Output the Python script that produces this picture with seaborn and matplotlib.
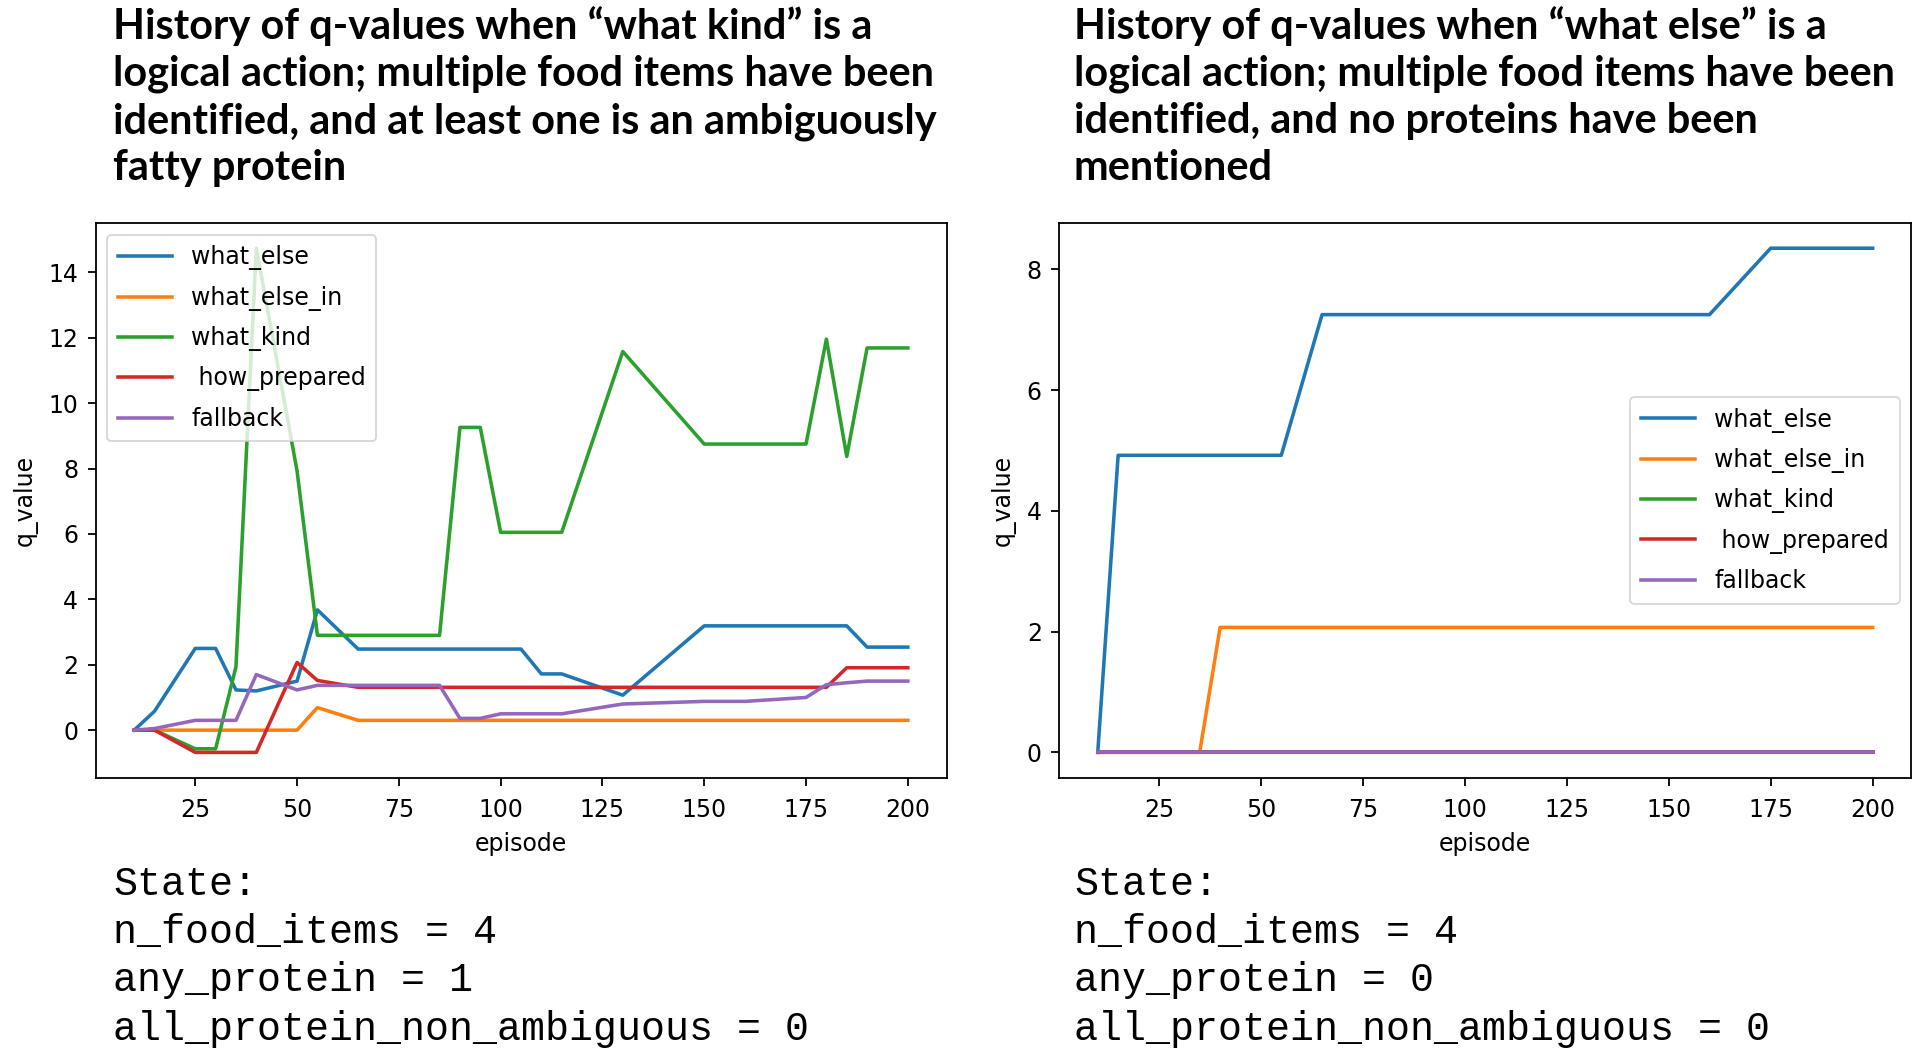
import numpy as np
import pandas as pd
import matplotlib
matplotlib.use("Agg")
import matplotlib.pyplot as plt
import seaborn as sns

# ---------------- data ----------------
actions = ["what_else", "what_else_in", "what_kind", " how_prepared", "fallback"]
colors = ["#1f77b4", "#ff7f0e", "#2ca02c", "#d62728", "#9467bd"]

# left panel
L_what_else_ep = [10, 15, 25, 30, 35, 40, 50, 55, 65, 105, 110, 115, 130, 150, 185, 190, 200]
L_what_else_q = [0, 0.58, 2.5, 2.5, 1.23, 1.2, 1.5, 3.68, 2.48, 2.48, 1.72, 1.72, 1.07, 3.19, 3.19, 2.54, 2.54]
L_what_else_in_ep = [10, 50, 55, 65, 200]
L_what_else_in_q = [0, 0, 0.69, 0.3, 0.3]
L_what_kind_ep = [10, 15, 25, 30, 35, 40, 50, 55, 85, 90, 95, 100, 115, 130, 150, 175, 180, 185, 190, 200]
L_what_kind_q = [0, 0, -0.57, -0.57, 1.94, 14.74, 7.93, 2.9, 2.9, 9.26, 9.26, 6.05, 6.05, 11.58, 8.75, 8.75,
                 11.96, 8.37, 11.69, 11.69]
L_how_prepared_ep = [10, 15, 25, 40, 50, 55, 65, 180, 185, 200]
L_how_prepared_q = [0, 0, -0.68, -0.68, 2.07, 1.52, 1.31, 1.31, 1.91, 1.91]
L_fallback_ep = [10, 15, 25, 35, 40, 50, 55, 85, 90, 95, 100, 115, 130, 150, 160, 175, 180, 185, 190, 200]
L_fallback_q = [0, 0.05, 0.3, 0.3, 1.7, 1.23, 1.37, 1.37, 0.36, 0.36, 0.5, 0.5, 0.8, 0.88, 0.88, 1.0,
                1.39, 1.45, 1.5, 1.5]

# right panel
R_what_else_ep = [10, 15, 55, 65, 160, 175, 200]
R_what_else_q = [0, 4.92, 4.92, 7.25, 7.25, 8.35, 8.35]
R_what_else_in_ep = [10, 35, 40, 200]
R_what_else_in_q = [0, 0, 2.07, 2.07]
R_what_kind_ep = [10, 200]
R_what_kind_q = [0, 0]
R_how_prepared_ep = [10, 200]
R_how_prepared_q = [0, 0]
R_fallback_ep = [10, 200]
R_fallback_q = [0, 0]

x_ticks = [25, 50, 75, 100, 125, 150, 175, 200]
L_y_ticks = [0, 2, 4, 6, 8, 10, 12, 14]
R_y_ticks = [0, 2, 4, 6, 8]

title_left = ["History of q-values when \u201cwhat kind\u201d is a",
              "logical action; multiple food items have been",
              "identified, and at least one is an ambiguously",
              "fatty protein"]
title_right = ["History of q-values when \u201cwhat else\u201d is a",
               "logical action; multiple food items have been",
               "identified, and no proteins have been",
               "mentioned"]
state_left = ["State:", "n_food_items = 4", "any_protein = 1", "all_protein_non_ambiguous = 0"]
state_right = ["State:", "n_food_items = 4", "any_protein = 0", "all_protein_non_ambiguous = 0"]


def build(series):
    rows = []
    for name, (eps, qs) in zip(actions, series):
        for e, q in zip(eps, qs):
            rows.append({"episode": e, "q_value": q, "action": name})
    return pd.DataFrame(rows)


dfL = build([(L_what_else_ep, L_what_else_q), (L_what_else_in_ep, L_what_else_in_q),
             (L_what_kind_ep, L_what_kind_q), (L_how_prepared_ep, L_how_prepared_q),
             (L_fallback_ep, L_fallback_q)])
dfR = build([(R_what_else_ep, R_what_else_q), (R_what_else_in_ep, R_what_else_in_q),
             (R_what_kind_ep, R_what_kind_q), (R_how_prepared_ep, R_how_prepared_q),
             (R_fallback_ep, R_fallback_q)])

# ---------------- style ----------------
sns.set_style("ticks")
FS = 17
plt.rcParams.update({
    "font.family": ["DejaVu Sans"],
    "axes.edgecolor": "black", "axes.linewidth": 1.3,
    "xtick.color": "black", "ytick.color": "black",
    "text.color": "black", "axes.labelcolor": "black",
    "xtick.major.size": 5.9, "ytick.major.size": 5.9,
    "xtick.major.width": 1.3, "ytick.major.width": 1.3,
    "xtick.major.pad": 8.5, "ytick.major.pad": 6.5,
    "font.size": FS, "xtick.labelsize": FS, "ytick.labelsize": FS,
    "axes.labelsize": FS, "legend.fontsize": FS,
    "axes.labelpad": 7.5,
    "lines.linewidth": 2.55, "lines.solid_capstyle": "projecting",
    "legend.frameon": True, "legend.edgecolor": "0.8", "legend.framealpha": 0.8,
    "legend.fancybox": True, "patch.linewidth": 1.3,
    "xtick.direction": "out", "ytick.direction": "out",
    "axes.spines.top": True, "axes.spines.right": True,
    "axes.facecolor": "white", "figure.facecolor": "white",
})

W, H = 1920, 1058
fig = plt.figure(figsize=(W / 100, H / 100), dpi=100)


def ax_rect(x0, y0, x1, y1):
    return [x0 / W, 1 - y1 / H, (x1 - x0) / W, (y1 - y0) / H]


axL = fig.add_axes(ax_rect(95.5, 223, 946.5, 777.6))
axR = fig.add_axes(ax_rect(1059, 223, 1911.4, 777.6))

for ax, df, yt, loc in [(axL, dfL, L_y_ticks, "upper left"), (axR, dfR, R_y_ticks, "center right")]:
    sns.lineplot(data=df, x="episode", y="q_value", hue="action", hue_order=actions,
                 palette=colors, estimator=None, ax=ax, linewidth=2.55)
    ax.set_xticks(x_ticks)
    ax.set_yticks(yt)
    ax.set_xlabel("episode")
    ax.set_ylabel("q_value")
    h, l = ax.get_legend_handles_labels()
    ax.legend(h, l, loc=loc, handlelength=2.3, labelspacing=0.65, borderpad=0.45, title=None)

# ---------------- texts ----------------
renderer = fig.canvas.get_renderer()


def fit_size(text, family, weight, target_px):
    t = fig.text(0, 0, text, fontfamily=family, fontweight=weight, fontsize=30)
    w = t.get_window_extent(renderer).width
    t.remove()
    return 30 * target_px / w


title_fs = fit_size(title_left[1], "Lato", "bold", 822)
state_fs = fit_size(state_left[3], "Liberation Mono", "normal", 696)

for x0, lines in [(113, title_left), (1074, title_right)]:
    for i, line in enumerate(lines):
        fig.text(x0 / W, 1 - (38.5 + 47.3 * i) / H, line, fontfamily="Lato", fontweight="bold",
                 fontsize=title_fs, ha="left", va="baseline")

for x0, lines in [(113, state_left), (1074, state_right)]:
    for i, line in enumerate(lines):
        fig.text(x0 / W, 1 - (894.7 + 48.3 * i) / H, line, fontfamily="Liberation Mono",
                 fontsize=state_fs, ha="left", va="baseline")

fig.savefig("out.png", dpi=100)
